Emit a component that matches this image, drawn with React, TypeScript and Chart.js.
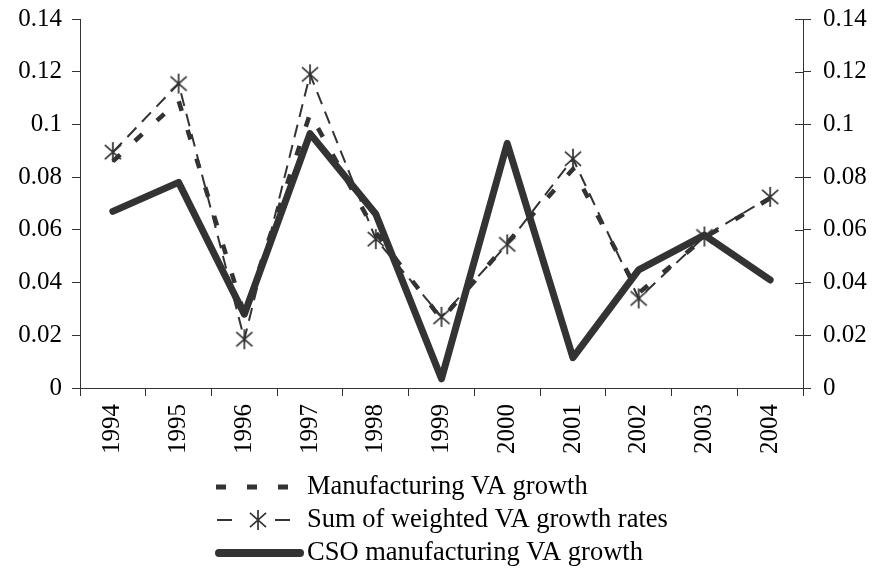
import React, { useEffect, useRef } from "react";
import { Chart, registerables } from "chart.js";

Chart.register(...registerables);

const years = ["1994", "1995", "1996", "1997", "1998", "1999", "2000", "2001", "2002", "2003", "2004"];
const manufacturingVA = [0.086, 0.109, 0.028, 0.104, 0.059, 0.026, 0.055, 0.083, 0.036, 0.057, 0.072];
const weightedVA = [0.0895, 0.1155, 0.0185, 0.119, 0.0565, 0.027, 0.0545, 0.087, 0.034, 0.0575, 0.0725];
const csoVA = [0.067, 0.078, 0.028, 0.0965, 0.066, 0.0035, 0.0928, 0.0115, 0.0448, 0.058, 0.041];
const yTicks = [0, 0.02, 0.04, 0.06, 0.08, 0.1, 0.12, 0.14];
const legendLabels = ["Manufacturing VA growth", "Sum of weighted VA growth rates", "CSO manufacturing VA growth"];

const LINE = "#333333";
const FONT = '"Liberation Serif", "Times New Roman", serif';

function makeStar(): HTMLCanvasElement {
  const s = 24;
  const c = document.createElement("canvas");
  c.width = s;
  c.height = s;
  const ctx = c.getContext("2d")!;
  const m = s / 2;
  const r = 10;
  const d = r * Math.SQRT1_2;
  ctx.strokeStyle = LINE;
  ctx.lineWidth = 1.7;
  ctx.beginPath();
  ctx.moveTo(m, m - r);
  ctx.lineTo(m, m + r);
  ctx.moveTo(m - d - 1, m - d);
  ctx.lineTo(m + d + 1, m + d);
  ctx.moveTo(m + d + 1, m - d);
  ctx.lineTo(m - d - 1, m + d);
  ctx.stroke();
  return c;
}

export default function App() {
  const ref = useRef<HTMLCanvasElement | null>(null);

  useEffect(() => {
    if (!ref.current) return;
    const star = makeStar();

    const extras = {
      id: "extras",
      afterDraw(chart: any) {
        const ctx = chart.ctx;
        const area = chart.chartArea;
        // inward ticks on right axis
        const y2 = chart.scales.y2;
        ctx.save();
        ctx.strokeStyle = LINE;
        ctx.lineWidth = 1;
        y2.ticks.forEach((t: any) => {
          const py = Math.round(y2.getPixelForValue(t.value)) + 0.5;
          ctx.beginPath();
          ctx.moveTo(area.right - 8, py);
          ctx.lineTo(area.right, py);
          ctx.stroke();
        });
        // legend
        const rows = [487, 520, 553];
        const x0 = 216;
        const x1 = 291;
        ctx.font = `26.5px ${FONT}`;
        ctx.textBaseline = "middle";
        ctx.fillStyle = "#000";
        // row 1
        ctx.strokeStyle = LINE;
        ctx.lineWidth = 5;
        ctx.lineCap = "butt";
        ctx.setLineDash([10, 21]);
        ctx.beginPath();
        ctx.moveTo(x0, rows[0]);
        ctx.lineTo(x1, rows[0]);
        ctx.stroke();
        // row 2
        ctx.lineWidth = 2;
        ctx.setLineDash([]);
        ctx.beginPath();
        ctx.moveTo(x0 + 1, rows[1]);
        ctx.lineTo(x0 + 16, rows[1]);
        ctx.moveTo(x1 - 16, rows[1]);
        ctx.lineTo(x1 - 1, rows[1]);
        ctx.stroke();
        ctx.drawImage(star, 258 - star.width / 2, rows[1] - star.height / 2);
        // row 3
        ctx.lineWidth = 8;
        ctx.lineCap = "round";
        ctx.beginPath();
        ctx.moveTo(219, rows[2]);
        ctx.lineTo(300, rows[2]);
        ctx.stroke();
        ctx.fillText(legendLabels[0], 307, rows[0]);
        ctx.fillText(legendLabels[1], 307, rows[1]);
        ctx.fillText(legendLabels[2], 307, rows[2]);
        ctx.restore();
      },
    };

    const tickFont = { family: FONT, size: 25 };
    const yCommon = {
      min: 0,
      max: 0.14,
      afterBuildTicks: (s: any) => {
        s.ticks = yTicks.map((v) => ({ value: v }));
      },
      ticks: {
        font: tickFont,
        color: "#000",
        padding: 10,
        callback: (v: any) => String(+Number(v).toFixed(2)),
      },
      grid: { drawOnChartArea: false, drawTicks: true, tickLength: 8, color: LINE },
      border: { display: true, color: LINE, width: 1 },
    };

    const chart = new Chart(ref.current, {
      type: "line",
      data: {
        labels: years,
        datasets: [
          {
            label: legendLabels[0],
            data: manufacturingVA,
            borderColor: LINE,
            borderWidth: 4.5,
            borderDash: [10, 20],
            pointRadius: 0,
            tension: 0,
            yAxisID: "y",
            order: 3,
          },
          {
            label: legendLabels[1],
            data: weightedVA,
            borderColor: LINE,
            borderWidth: 2,
            borderDash: [13, 8],
            pointStyle: star as any,
            pointRadius: 10,
            tension: 0,
            yAxisID: "y",
            order: 1,
          },
          {
            label: legendLabels[2],
            data: csoVA,
            borderColor: LINE,
            borderWidth: 7,
            borderCapStyle: "round",
            borderJoinStyle: "round",
            pointRadius: 0,
            tension: 0,
            yAxisID: "y",
            order: 2,
          },
        ],
      },
      options: {
        responsive: false,
        animation: false,
        layout: { padding: { top: 19, left: 0, right: 0, bottom: 0 } },
        plugins: { legend: { display: false }, tooltip: { enabled: false } },
        scales: {
          x: {
            offset: true,
            afterFit: (s: any) => {
              s.height = 183;
              s.paddingLeft = 0;
              s.paddingRight = 0;
            },
            ticks: { font: tickFont, color: "#000", maxRotation: 90, minRotation: 90, padding: 8 },
            grid: { offset: true, drawOnChartArea: false, drawTicks: true, tickLength: 8, color: LINE },
            border: { display: true, color: LINE, width: 1 },
          },
          y: {
            ...yCommon,
            position: "left",
            afterFit: (s: any) => {
              s.width = 80;
              s.paddingTop = 0;
              s.paddingBottom = 0;
            },
          } as any,
          y2: {
            ...yCommon,
            position: "right",
            ticks: { ...yCommon.ticks, padding: 12 },
            afterFit: (s: any) => {
              s.width = 72;
              s.paddingTop = 0;
              s.paddingBottom = 0;
            },
          } as any,
        },
      },
      plugins: [extras],
    });
    return () => chart.destroy();
  }, []);

  return (
    <div style={{ position: "fixed", left: 0, top: 0, width: 875, height: 571, background: "#fff" }}>
      <canvas ref={ref} width={875} height={571} style={{ width: 875, height: 571, display: "block" }} />
    </div>
  );
}
